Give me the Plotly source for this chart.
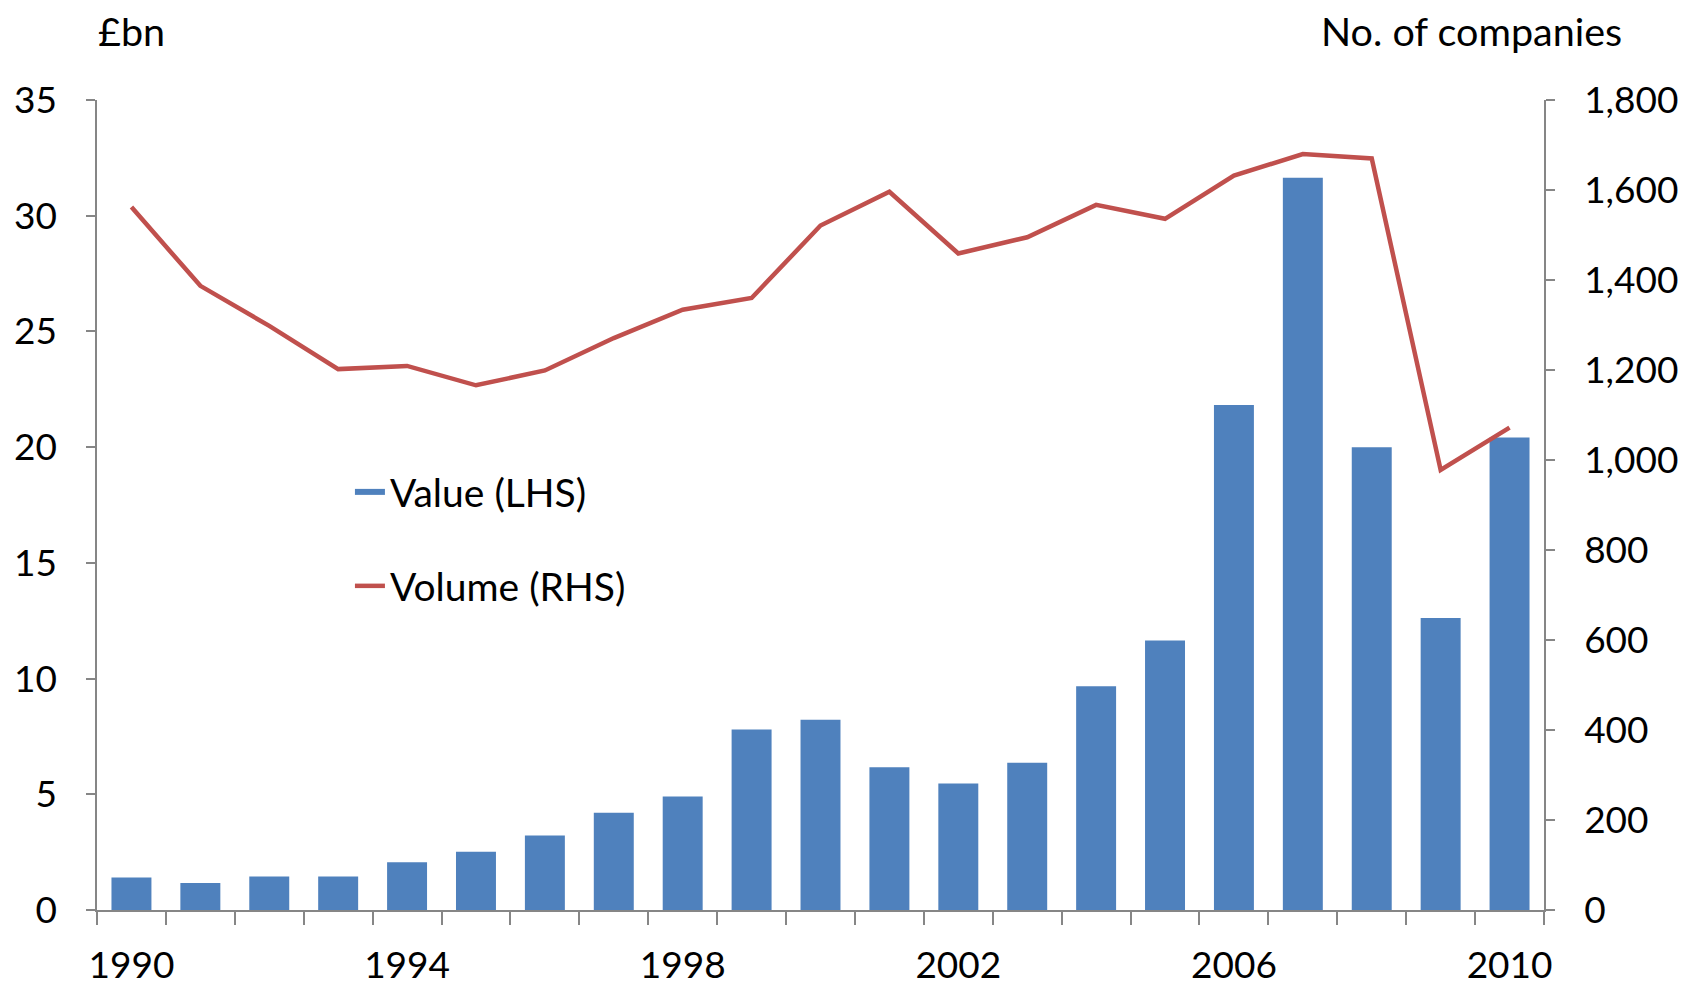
"""UK M&A style chart: value (bars, LHS) and volume (line, RHS)."""
import plotly.graph_objects as go

years = list(range(1990, 2011))
value_bn = [1.40, 1.17, 1.45, 1.45, 2.06, 2.52, 3.22, 4.20, 4.90, 7.80, 8.22,
            6.17, 5.47, 6.36, 9.67, 11.64, 21.82, 31.64, 20.00, 12.62, 20.42]
volume = [1562, 1387, 1298, 1202, 1209, 1166, 1199, 1271, 1334, 1360, 1521,
          1596, 1459, 1495, 1567, 1536, 1632, 1680, 1670, 978, 1072]
xtick_years = [1990, 1994, 1998, 2002, 2006, 2010]

FONT = "Lato"
AXIS_GREY = "#868686"
BLUE = "#4F81BD"
RED = "#C0504D"

fig = go.Figure()

fig.add_trace(go.Bar(
    x=years, y=value_bn, name="Value (LHS)",
    marker=dict(color=BLUE, line=dict(width=0)),
    showlegend=False,
))
# legend-only entry so the key is a wide block like the original
fig.add_trace(go.Scatter(
    x=[None], y=[None], name="Value (LHS)", mode="none",
    fill="toself", fillcolor=BLUE, legend="legend", showlegend=True,
))
fig.add_trace(go.Scatter(
    x=years, y=volume, name="Volume (RHS)", yaxis="y2",
    mode="lines", line=dict(color=RED, width=4.5),
    legend="legend2", showlegend=True,
))

# page body has an 8px margin, so the figure is slightly smaller than the window
fig.update_layout(
    width=1689, height=978,
    margin=dict(l=89, r=153, t=92, b=76),
    paper_bgcolor="white", plot_bgcolor="white",
    font=dict(family=FONT, size=37, color="black"),
    bargap=0.42,
    showlegend=True,
    xaxis=dict(
        range=[1989.5, 2010.5], automargin=False,
        tickmode="array", tickvals=xtick_years,
        ticks="", ticklabelstandoff=22,
        showline=True, linecolor=AXIS_GREY, linewidth=1.5,
        showgrid=False, zeroline=False,
        minor=dict(ticks="outside", ticklen=13, tick0=1989.5, dtick=1,
                   tickcolor=AXIS_GREY, tickwidth=1.5, showgrid=False),
    ),
    yaxis=dict(
        range=[0, 35], dtick=5, automargin=False,
        ticks="outside", ticklen=9, tickcolor=AXIS_GREY, tickwidth=1.5,
        ticklabelstandoff=22,
        showline=True, linecolor=AXIS_GREY, linewidth=1.5,
        showgrid=False, zeroline=False,
    ),
    yaxis2=dict(
        range=[0, 1800], dtick=200, tickformat=",", automargin=False,
        overlaying="y", side="right",
        ticks="outside", ticklen=9, tickcolor=AXIS_GREY, tickwidth=1.5,
        ticklabelstandoff=22,
        showline=True, linecolor=AXIS_GREY, linewidth=1.5,
        showgrid=False, zeroline=False,
    ),
    legend=dict(x=0.1748, y=0.516, xanchor="left", yanchor="middle",
                bgcolor="rgba(0,0,0,0)", font=dict(size=39)),
    legend2=dict(x=0.1748, y=0.40, xanchor="left", yanchor="middle",
                 bgcolor="rgba(0,0,0,0)", font=dict(size=39)),
    annotations=[
        dict(text="£bn", xref="paper", yref="paper", x=0, y=1.0,
             xanchor="left", yanchor="middle", yshift=70, showarrow=False,
             borderpad=0, font=dict(size=39.5)),
        dict(text="No. of companies", xref="paper", yref="paper", x=1.0,
             y=1.0, xanchor="right", yanchor="middle", xshift=79, yshift=70,
             showarrow=False, borderpad=0, font=dict(size=39.5)),
    ],
)

fig.write_html("out.html")
